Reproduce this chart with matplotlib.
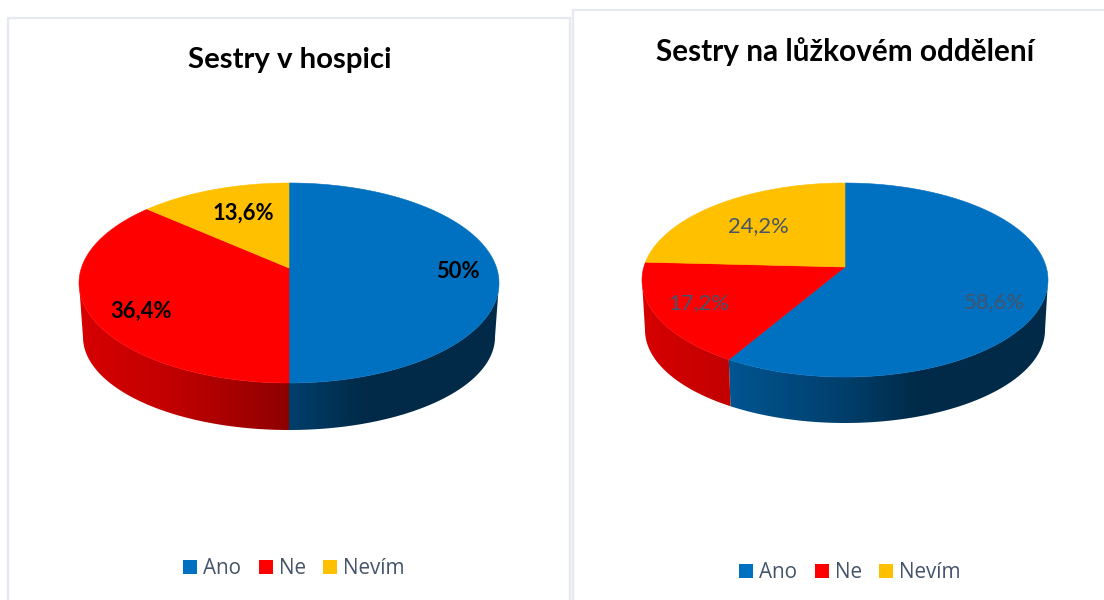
import numpy as np
import matplotlib
matplotlib.use("Agg")
import matplotlib.pyplot as plt
from matplotlib.patches import Polygon, Rectangle

categories = ["Ano", "Ne", "Nevím"]
title_left = "Sestry v hospici"
title_right = "Sestry na lůžkovém oddělení"
values_left = [50.0, 36.4, 13.6]
values_right = [58.6, 17.2, 24.2]
labels_left = ["50%", "36,4%", "13,6%"]
labels_right = ["58,6%", "17,2%", "24,2%"]

COLORS = ["#0070C0", "#FF0000", "#FFC000"]
BORDER = "#E6EAF0"
LEGEND_TEXT = "#44546A"
SHADE_X = [-1.0, -0.57, 0.0, 0.35, 1.0]
SHADE_K = [0.84, 0.76, 0.56, 0.38, 0.38]

fig = plt.figure(figsize=(11.04, 6), dpi=100, facecolor="white")
ax = fig.add_axes([0, 0, 1, 1])
ax.axis("off")


def rim_param(phi, g):
    """Ellipse parameter of the rim point seen from the off-centre apex."""
    k = g["ry"] / g["rx"]
    dx, dy = np.sin(phi), -np.cos(phi) * k
    ax0, ay0 = g["ax"] - g["cx"], g["ay"] - g["cy"]
    A = (dx / g["rx"]) ** 2 + (dy / g["ry"]) ** 2
    B = 2 * (ax0 * dx / g["rx"] ** 2 + ay0 * dy / g["ry"] ** 2)
    C = (ax0 / g["rx"]) ** 2 + (ay0 / g["ry"]) ** 2 - 1
    s = (-B + np.sqrt(B * B - 4 * A * C)) / (2 * A)
    return np.arctan2((ay0 + s * dy) / g["ry"], (ax0 + s * dx) / g["rx"])


def draw_pie(values, labels, g, label_pos, label_style):
    total = sum(values)
    edges = np.concatenate([[0], np.cumsum(values)]) / total * 2 * np.pi
    params = [rim_param(p, g) for p in edges]
    for i, col in enumerate(COLORS):
        t0, t1 = params[i], params[i + 1]
        while t1 < t0:
            t1 += 2 * np.pi
        # side wall: gradient image clipped to the visible part of the slice
        w0, w1 = max(t0, 0.0), min(t1, np.pi)
        if w1 > w0:
            ts = np.linspace(w0, w1, 200)
            top = np.column_stack([g["cx"] + g["rx"] * np.cos(ts), g["cy"] + g["ry"] * np.sin(ts)])
            bot = np.column_stack([g["cx"] + g["bx"] * np.cos(ts), g["by"] + g["bry"] * np.sin(ts)])
            outline = np.vstack([top, bot[::-1]])
            base = np.array(matplotlib.colors.to_rgb(col))
            xs = np.linspace(-1, 1, 500)
            grad = np.interp(xs, SHADE_X, SHADE_K)[None, :, None] * base[None, None, :]
            clip = Polygon(outline, closed=True, transform=ax.transData, fc="none", ec="none")
            ax.add_patch(clip)
            im = ax.imshow(grad, extent=(g["cx"] - g["rx"], g["cx"] + g["rx"], g["by"] + g["bry"] + 2, g["cy"] - g["ry"]),
                           aspect="auto", interpolation="bilinear", zorder=2)
            im.set_clip_path(clip)
        # top face
        ts = np.linspace(t0, t1, 200)
        pts = [(g["ax"], g["ay"])] + list(zip(g["cx"] + g["rx"] * np.cos(ts),
                                              g["cy"] + g["ry"] * np.sin(ts)))
        ax.add_patch(Polygon(pts, closed=True, fc=col, ec=col, lw=0.4, zorder=3))
    for text, pos in zip(labels, label_pos):
        ax.text(pos[0], pos[1], text, ha="center", va="center", zorder=5, **label_style)


def draw_legend(x_sw, x_txt, y):
    for name, col, xs, xt in zip(categories, COLORS, x_sw, x_txt):
        ax.add_patch(Rectangle((xs, y - 7), 13.5, 13.5, fc=col, ec="none", zorder=4))
        ax.text(xt, y + 1, name, ha="left", va="center", family="Open Sans",
                fontsize=14.9, color=LEGEND_TEXT, zorder=5)


# panels
ax.add_patch(Rectangle((8, 18), 562, 600, fc="white", ec=BORDER, lw=1.7, zorder=1))
ax.add_patch(Rectangle((572.5, 10), 560, 600, fc="white", ec=BORDER, lw=1.7, zorder=1))

left = dict(cx=289, cy=283, rx=210, ry=100, ax=289, ay=268, bx=206, by=337, bry=93)
right = dict(cx=845, cy=280, rx=203, ry=97, ax=845, ay=267, bx=200, by=330, bry=93)

draw_pie(values_left, labels_left, left,
         [(458, 271), (141, 311), (243, 213)],
         dict(family="Lato", fontweight="bold", fontsize=15.8, color="black"))
draw_pie(values_right, labels_right, right,
         [(994, 302), (699, 303), (758, 226)],
         dict(family="Lato", fontsize=15.8, color=LEGEND_TEXT))

ax.text(289.5, 60, title_left, ha="center", va="center", family="Lato",
        fontweight="bold", fontsize=21.2, color="black", zorder=5)
ax.text(845, 52, title_right, ha="center", va="center", family="Lato",
        fontweight="bold", fontsize=21.4, color="black", zorder=5)

draw_legend([183, 259, 323], [203, 279, 343], 567)
draw_legend([739, 815, 879], [759, 835, 899], 571)

ax.set_xlim(0, 1104)
ax.set_ylim(600, 0)
ax.set_aspect("auto")

fig.savefig("out.png", dpi=100, facecolor="white")
